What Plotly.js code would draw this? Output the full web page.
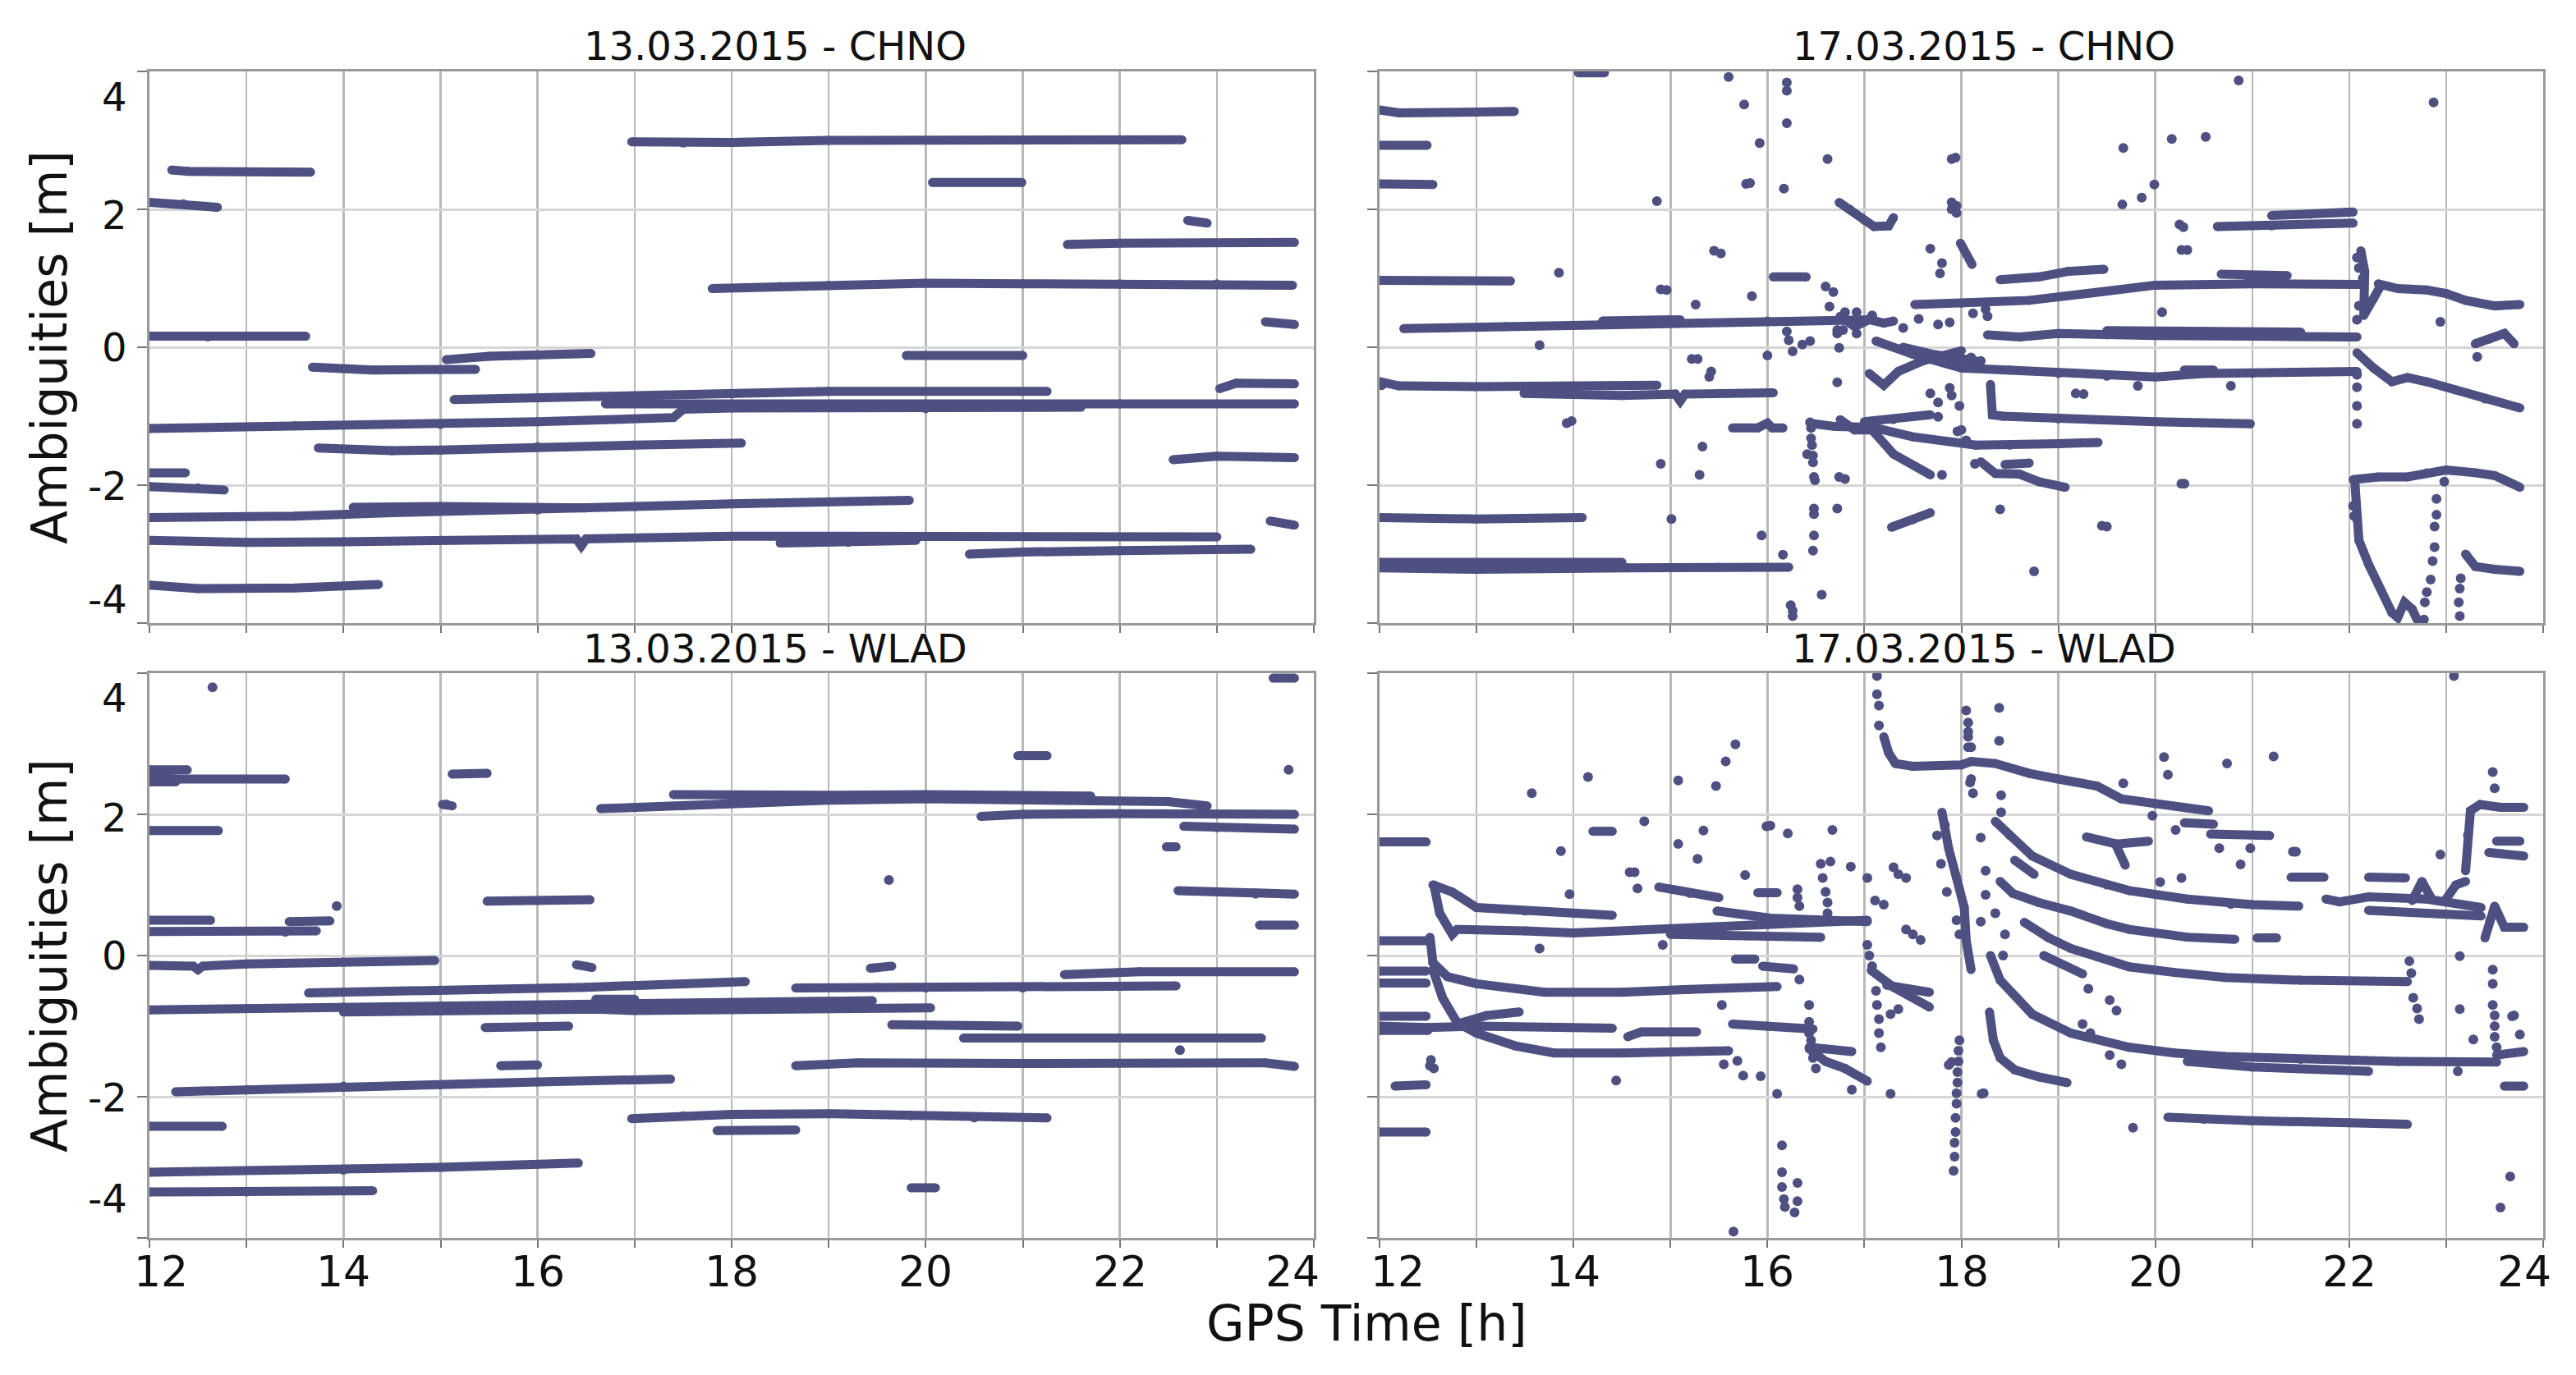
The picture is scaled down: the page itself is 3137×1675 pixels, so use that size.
<!DOCTYPE html>
<html><head><meta charset="utf-8">
<script src="https://cdn.plot.ly/plotly-3.0.1.min.js"></script>
<style>html,body{margin:0;padding:0;background:#fff;}#chart{width:3137px;height:1675px;}</style>
</head><body><div id="chart"></div>
<script>
// ---------- data (GPS time [h], ambiguity [m]) ----------
const panelTitles = ["13.03.2015 - CHNO", "17.03.2015 - CHNO", "13.03.2015 - WLAD", "17.03.2015 - WLAD"];
const xTickVals = [12, 14, 16, 18, 20, 22, 24];
const yTickVals = [4, 2, 0, -2, -4];

// each track: [t0, v0, t1, v1, ...]
const chno13Tracks = [
 [12.23,2.57, 12.4,2.55, 13.66,2.54],
 [12.0,2.1, 12.35,2.08, 12.7,2.03],
 [12.0,0.16, 12.6,0.15, 13.61,0.16],
 [13.68,-0.29, 14.3,-0.33, 15.36,-0.32],
 [15.06,-0.18, 15.5,-0.13, 16.55,-0.09],
 [15.14,-0.76, 15.7,-0.74, 17.0,-0.72, 18.0,-0.68, 19.0,-0.64, 21.25,-0.64],
 [16.7,-0.82, 18.0,-0.83, 20.0,-0.82, 22.0,-0.82, 23.8,-0.82],
 [12.0,-1.18, 13.5,-1.14, 15.0,-1.12, 16.0,-1.08, 17.4,-1.02, 17.5,-0.9, 18.0,-0.88, 20.0,-0.89, 21.6,-0.87],
 [23.03,-0.6, 23.2,-0.52, 23.8,-0.53],
 [19.8,-0.12, 21.0,-0.12],
 [22.55,-1.63, 23.0,-1.58, 23.8,-1.6],
 [23.55,-2.52, 23.8,-2.58],
 [23.5,0.37, 23.8,0.33],
 [17.8,0.85, 18.5,0.88, 19.0,0.9, 20.0,0.93, 21.0,0.92, 22.0,0.92, 23.0,0.92, 23.78,0.9],
 [21.46,1.49, 22.0,1.51, 23.8,1.52],
 [22.7,1.84, 22.9,1.8],
 [20.07,2.39, 20.99,2.39],
 [16.97,2.98, 17.5,2.96, 18.0,2.97, 19.0,3.0, 22.64,3.01],
 [13.74,-1.46, 14.5,-1.5, 15.0,-1.49, 16.0,-1.44, 17.0,-1.42, 18.1,-1.39],
 [12.0,-1.82, 12.37,-1.82],
 [12.0,-2.02, 12.5,-2.04, 12.77,-2.07],
 [12.0,-2.47, 13.5,-2.45, 14.5,-2.4, 16.0,-2.36, 17.0,-2.31, 18.0,-2.27, 19.0,-2.24, 19.83,-2.22],
 [14.1,-2.32, 15.0,-2.31, 16.5,-2.33],
 [12.0,-2.8, 13.0,-2.83, 14.0,-2.82, 15.0,-2.8, 16.4,-2.78, 16.45,-2.88, 16.5,-2.78, 18.0,-2.74, 20.0,-2.74, 23.0,-2.75],
 [18.5,-2.84, 19.2,-2.83, 19.9,-2.8],
 [20.45,-3.0, 21.0,-2.97, 22.0,-2.95, 23.35,-2.93],
 [12.0,-3.45, 12.5,-3.5, 13.5,-3.49, 14.36,-3.44]
];
const chno13Dots = [];

const chno17Tracks = [
 [12.0,3.44, 12.2,3.4, 13.0,3.41, 13.39,3.42],
 [12.0,2.93, 12.49,2.93],
 [12.0,2.37, 12.55,2.36],
 [12.0,0.97, 13.35,0.96],
 [14.05,3.98, 14.32,3.98],
 [12.25,0.27, 12.7,0.28, 13.3,0.3, 14.3,0.33, 15.1,0.35, 16.0,0.38, 17.1,0.4],
 [14.3,0.38, 15.1,0.4],
 [12.0,-0.5, 12.2,-0.56, 13.0,-0.57, 14.0,-0.56, 14.86,-0.55],
 [13.49,-0.67, 14.5,-0.7, 15.05,-0.68, 15.1,-0.78, 15.15,-0.68, 16.06,-0.66],
 [12.0,-2.47, 13.0,-2.49, 14.09,-2.47],
 [12.0,-3.2, 13.0,-3.22, 14.56,-3.2, 15.5,-3.19, 16.22,-3.19],
 [12.0,-3.12, 13.5,-3.13, 14.5,-3.12],
 [15.64,-1.17, 15.9,-1.17, 16.0,-1.1, 16.05,-1.17, 16.16,-1.17],
 [16.06,1.02, 16.4,1.02],
 [16.74,2.1, 16.85,2.0, 17.0,1.84, 17.1,1.75, 17.25,1.76, 17.3,1.88],
 [16.48,-1.11, 16.7,-1.15, 17.08,-1.16, 17.5,-1.3, 18.15,-1.42, 18.5,-1.42, 19.0,-1.4, 19.41,-1.38],
 [16.75,-1.05, 16.9,-1.2, 17.08,-1.2, 17.3,-1.55, 17.68,-1.85],
 [17.0,-1.08, 17.3,-1.05, 17.68,-0.98],
 [17.28,-2.61, 17.5,-2.5, 17.68,-2.4],
 [17.12,0.09, 17.5,-0.1, 18.0,-0.3, 18.5,-0.33, 19.0,-0.38, 19.5,-0.42, 20.0,-0.43, 20.5,-0.38, 21.0,-0.38, 22.08,-0.35],
 [20.3,-0.33, 20.6,-0.33],
 [17.05,-0.38, 17.2,-0.55, 17.35,-0.35, 17.6,-0.2, 18.0,-0.05],
 [17.4,0.0, 17.7,-0.1, 18.15,-0.2],
 [16.75,0.45, 16.9,0.3, 17.05,0.4, 17.2,0.35, 17.3,0.38],
 [17.52,0.62, 18.0,0.64, 18.7,0.68, 19.3,0.78, 20.0,0.9, 21.0,0.92, 22.1,0.91],
 [18.4,0.98, 18.8,1.02, 19.1,1.1, 19.47,1.13],
 [20.68,1.06, 21.36,1.04],
 [20.96,0.96, 21.28,0.96],
 [18.27,0.18, 18.6,0.15, 19.0,0.2, 19.5,0.18, 20.0,0.17, 21.0,0.16, 22.08,0.15],
 [19.5,0.24, 20.5,0.23, 21.5,0.22],
 [18.3,-0.54, 18.32,-0.98, 18.43,-1.0, 19.0,-1.04, 20.0,-1.08, 20.98,-1.11],
 [18.2,-1.66, 18.35,-1.83, 18.6,-1.84, 18.8,-1.95, 19.07,-2.03],
 [18.45,-1.7, 18.7,-1.68],
 [21.2,1.91, 21.6,1.93, 22.04,1.96],
 [20.64,1.75, 21.2,1.76, 22.04,1.8],
 [17.99,1.51, 18.11,1.2],
 [22.3,0.92, 22.5,0.85, 22.8,0.83, 23.0,0.78, 23.2,0.68, 23.5,0.6, 23.76,0.62],
 [22.12,1.4, 22.16,1.1, 22.15,0.46, 22.25,0.7, 22.32,0.88],
 [22.08,-0.08, 22.25,-0.3, 22.44,-0.5, 22.6,-0.44, 22.8,-0.5, 23.1,-0.62, 23.4,-0.75, 23.76,-0.88],
 [22.04,-1.92, 22.3,-1.88, 22.6,-1.88, 22.8,-1.82, 23.0,-1.78, 23.3,-1.82, 23.5,-1.86, 23.76,-2.03],
 [22.06,-2.0, 22.08,-2.5, 22.1,-2.8, 22.2,-3.15, 22.32,-3.5, 22.44,-3.85, 22.5,-3.92, 22.57,-3.7, 22.65,-3.8, 22.7,-3.95],
 [23.2,-3.0, 23.3,-3.18, 23.5,-3.22, 23.76,-3.25],
 [23.3,0.05, 23.45,0.12, 23.6,0.2, 23.7,0.05]
];
const chno17Dots = [
 15.6,3.92, 15.76,3.52, 16.2,3.84, 16.2,3.72, 16.2,3.25, 15.92,2.96, 15.78,2.37, 15.82,2.38, 16.17,2.3,
 14.86,2.12, 13.85,1.08, 13.65,0.03, 15.45,1.4, 15.52,1.36, 14.9,0.84, 14.96,0.83, 15.26,0.62, 15.84,0.74,
 16.62,2.73, 17.9,2.73, 17.9,2.1, 17.9,2.0, 16.0,-0.12, 15.22,-0.17, 15.28,-0.17, 15.42,-0.35, 15.4,-0.43,
 13.93,-1.1, 13.98,-1.07, 15.33,-1.44, 14.9,-1.69, 15.3,-1.85, 15.01,-2.49, 15.94,-2.73, 16.16,-3.01,
 16.56,-3.59, 16.24,-3.74, 16.26,-3.82, 16.26,-3.9, 12.02,-0.55,
 16.44,-1.09, 16.45,-1.17, 16.45,-1.32, 16.46,-1.42, 16.47,-1.57, 16.47,-1.67, 16.48,-1.88, 16.49,-1.93,
 16.48,-2.34, 16.48,-2.42, 16.48,-2.73, 16.47,-2.95, 16.41,-1.55,
 16.74,-1.88, 16.8,-1.91, 16.72,-2.34, 16.72,-0.51, 16.74,-0.01, 16.72,0.2, 16.78,0.25,
 16.2,0.23, 16.22,0.1, 16.26,-0.06, 16.36,0.04, 16.44,0.09,
 16.6,0.88, 16.68,0.8, 16.64,0.59, 16.8,0.51, 16.92,0.51, 17.08,0.46, 16.72,0.25, 16.92,0.2,
 17.68,1.43, 17.8,1.22, 17.78,1.07, 17.4,0.28, 17.56,0.41, 17.76,0.33, 17.88,0.36, 18.12,0.49,
 17.68,-0.67, 17.76,-0.8, 17.88,-0.59, 17.9,-0.7, 17.98,-0.85, 17.76,-1.01, 17.96,-1.22, 17.8,-1.85, 18.14,-1.69,
 20.86,3.87, 22.87,3.55, 19.67,2.89, 20.17,3.02, 20.52,3.05, 19.99,2.36, 19.86,2.17, 19.66,2.07,
 20.25,1.78, 20.29,1.74, 20.27,1.41, 20.33,1.41, 20.07,0.51, 22.94,0.37, 19.82,-0.56, 20.78,-0.56,
 19.18,-0.67, 19.26,-0.68, 20.27,-1.98, 20.3,-1.98, 18.4,-2.35, 19.45,-2.59, 19.5,-2.6, 18.75,-3.25,
 17.94,2.75, 17.95,2.05, 17.95,1.95, 18.27,0.45, 18.25,0.55, 18.2,-0.2, 18.1,-0.15, 18.0,-1.2, 18.05,-1.35,
 22.08,1.3, 22.1,1.15, 22.14,1.0, 22.1,0.6, 22.08,0.4, 22.08,-0.4, 22.08,-0.58, 22.08,-0.85, 22.08,-1.11,
 22.04,-2.3, 22.05,-2.45, 22.98,-1.95, 22.9,-2.2, 22.9,-2.43, 22.88,-2.6, 22.88,-2.9, 22.86,-3.1, 22.84,-3.37,
 22.8,-3.55, 22.78,-3.7, 22.77,-3.95, 23.15,-3.35, 23.14,-3.5, 23.13,-3.7, 23.14,-3.9, 23.32,-0.14
];

const wlad13Tracks = [
 [12.0,2.63, 12.39,2.63],
 [12.0,2.52, 12.3,2.5, 13.4,2.5],
 [12.0,2.46, 12.27,2.46],
 [12.0,1.77, 12.71,1.77],
 [15.12,2.57, 15.48,2.58],
 [15.02,2.14, 15.12,2.12],
 [16.65,2.08, 17.0,2.1, 17.5,2.12, 18.0,2.16, 19.0,2.2, 20.0,2.22, 21.0,2.2, 21.7,2.2, 22.5,2.18, 22.9,2.12],
 [17.4,2.28, 18.0,2.27, 19.0,2.27, 20.0,2.28, 20.8,2.27, 21.7,2.26],
 [18.0,2.22, 19.0,2.23, 20.0,2.24, 21.0,2.25],
 [20.57,1.97, 21.0,2.0, 22.0,2.01, 23.0,2.0, 23.8,2.0],
 [23.58,3.93, 23.8,3.93],
 [20.95,2.83, 21.25,2.83],
 [22.66,1.83, 23.0,1.81, 23.8,1.79],
 [22.48,1.54, 22.58,1.54],
 [22.6,0.92, 23.0,0.9, 23.4,0.87, 23.8,0.87],
 [23.44,0.43, 23.8,0.43],
 [12.0,0.5, 12.63,0.5],
 [13.44,0.48, 13.86,0.49],
 [12.0,0.34, 13.4,0.33, 13.72,0.35],
 [15.48,0.77, 16.0,0.78, 16.54,0.79],
 [12.0,-0.14, 12.45,-0.15, 12.5,-0.2, 12.55,-0.15, 13.0,-0.12, 14.0,-0.09, 14.94,-0.07],
 [16.4,-0.13, 16.56,-0.17],
 [19.43,-0.18, 19.65,-0.15],
 [13.64,-0.53, 14.5,-0.51, 15.5,-0.48, 16.5,-0.45, 17.5,-0.4, 18.14,-0.37],
 [18.66,-0.46, 19.5,-0.45, 20.0,-0.46, 21.0,-0.46, 21.8,-0.44, 22.58,-0.43],
 [21.43,-0.27, 22.2,-0.23, 23.8,-0.23],
 [12.0,-0.77, 13.0,-0.75, 14.0,-0.73, 15.0,-0.72, 16.0,-0.7, 17.0,-0.68, 18.0,-0.67, 19.45,-0.64],
 [14.0,-0.8, 15.0,-0.78, 16.0,-0.77, 16.6,-0.76, 17.0,-0.78, 18.0,-0.76, 19.0,-0.74, 20.05,-0.74],
 [16.6,-0.62, 17.0,-0.62],
 [15.46,-1.02, 16.32,-1.0],
 [15.62,-1.56, 16.0,-1.55],
 [19.65,-0.98, 20.4,-0.99, 20.95,-1.0],
 [20.39,-1.17, 21.5,-1.17, 23.46,-1.17],
 [18.66,-1.56, 19.3,-1.52, 21.0,-1.53, 23.5,-1.52, 23.8,-1.57],
 [12.27,-1.93, 13.0,-1.9, 14.0,-1.85, 15.0,-1.83, 16.0,-1.79, 17.37,-1.75],
 [12.0,-2.42, 12.75,-2.42],
 [16.97,-2.31, 17.5,-2.27, 18.0,-2.25, 19.0,-2.24, 19.85,-2.27, 20.5,-2.3, 21.25,-2.3],
 [17.85,-2.48, 18.66,-2.47],
 [19.85,-3.29, 20.1,-3.29],
 [12.0,-3.07, 14.0,-3.04, 15.0,-3.0, 16.42,-2.94],
 [12.0,-3.35, 13.0,-3.35, 14.3,-3.33]
];
const wlad13Dots = [12.65,3.8, 13.93,0.7, 19.62,1.07, 23.74,2.63, 22.62,-1.34, 15.06,2.14];

const wlad17Tracks = [
 [12.0,1.61, 12.48,1.61],
 [12.0,0.21, 12.5,0.21],
 [12.0,-0.22, 12.48,-0.22],
 [12.0,-0.39, 12.48,-0.39],
 [12.0,-0.86, 12.48,-0.86],
 [12.0,-1.0, 12.5,-1.02],
 [12.0,-1.06, 12.5,-1.06],
 [12.0,-2.5, 12.48,-2.5],
 [12.55,1.0, 12.75,0.9, 13.0,0.68, 13.5,0.63, 14.0,0.6, 14.4,0.57],
 [12.56,1.0, 12.62,0.6, 12.75,0.3, 12.8,0.37, 13.5,0.35, 14.0,0.32, 15.0,0.38, 16.0,0.44, 17.03,0.5],
 [15.48,0.63, 16.03,0.53, 17.03,0.48],
 [15.0,0.3, 15.8,0.28, 16.55,0.26],
 [14.88,0.97, 15.2,0.88, 15.5,0.82],
 [12.52,0.26, 12.55,-0.1, 12.7,-0.3, 13.0,-0.4, 13.7,-0.52, 14.5,-0.52, 15.2,-0.48, 16.1,-0.44],
 [12.55,-0.2, 12.65,-0.6, 12.8,-0.95, 13.0,-1.1, 13.4,-1.28, 13.8,-1.38, 14.5,-1.38, 15.6,-1.35],
 [12.5,-1.02, 13.0,-1.0, 14.4,-1.03],
 [12.85,-0.95, 13.1,-0.85, 13.44,-0.8],
 [14.56,-1.15, 14.7,-1.08, 15.27,-1.08],
 [15.64,-0.97, 16.0,-1.0, 16.47,-1.04],
 [12.16,-1.85, 12.48,-1.83],
 [14.2,1.76, 14.4,1.76],
 [15.9,0.89, 16.1,0.89],
 [15.67,-0.05, 15.87,-0.05],
 [15.95,-0.15, 16.27,-0.19],
 [16.43,-1.32, 16.6,-1.5, 16.8,-1.6, 17.03,-1.78],
 [16.43,-1.3, 16.87,-1.36],
 [17.32,2.72, 17.5,2.68, 18.0,2.7, 18.1,2.75, 18.35,2.72, 18.7,2.58, 19.0,2.5, 19.4,2.4, 19.65,2.22, 20.0,2.15, 20.33,2.09, 20.55,2.05],
 [17.2,3.1, 17.25,2.87, 17.32,2.72],
 [17.07,-0.21, 17.3,-0.45, 17.67,-0.73],
 [17.23,-0.42, 17.67,-0.52],
 [17.8,2.03, 17.87,1.51, 17.95,1.1, 18.03,0.68, 18.05,0.21, 18.1,-0.2],
 [18.35,1.9, 18.5,1.7, 18.73,1.41, 19.13,1.15, 19.5,1.0, 19.73,0.92, 20.33,0.8, 21.0,0.72, 21.48,0.7],
 [18.55,1.35, 18.75,1.15],
 [18.4,1.05, 18.53,0.88, 18.8,0.75, 19.13,0.63, 19.5,0.45, 19.73,0.37, 20.33,0.26, 20.82,0.23],
 [18.65,0.47, 18.9,0.25, 19.13,0.1, 19.4,-0.02, 19.73,-0.16, 20.2,-0.24, 20.72,-0.31, 21.5,-0.35, 22.6,-0.37],
 [18.85,0.0, 19.25,-0.26],
 [18.3,0.0, 18.4,-0.35, 18.73,-0.83, 19.13,-1.1, 19.73,-1.3, 20.2,-1.38, 20.72,-1.43, 21.5,-1.47, 22.5,-1.5, 23.52,-1.51],
 [20.33,-1.5, 21.0,-1.58, 22.2,-1.64],
 [18.29,-0.8, 18.33,-1.2, 18.4,-1.45, 18.55,-1.62, 18.8,-1.72, 19.09,-1.8],
 [20.13,-2.29, 20.5,-2.32, 21.0,-2.34, 22.0,-2.37, 22.6,-2.39],
 [20.3,1.88, 20.6,1.86],
 [20.57,1.72, 21.18,1.7],
 [19.29,1.68, 19.6,1.58, 19.93,1.62],
 [19.6,1.55, 19.69,1.28],
 [21.4,1.11, 21.74,1.11],
 [22.2,1.11, 22.58,1.1],
 [21.05,0.25, 21.25,0.25],
 [21.76,0.8, 21.9,0.76, 22.2,0.83, 22.8,0.8, 23.36,0.68],
 [22.2,0.64, 22.8,0.6, 23.36,0.56],
 [22.65,0.78, 22.75,1.05, 22.85,0.8],
 [23.0,0.8, 23.1,1.0, 23.2,1.05],
 [23.2,1.2, 23.22,1.7, 23.25,2.05, 23.35,2.14, 23.56,2.1, 23.8,2.1],
 [23.44,1.46, 23.8,1.41],
 [23.52,1.62, 23.76,1.62],
 [23.4,0.25, 23.45,0.5, 23.5,0.7, 23.6,0.4, 23.8,0.4],
 [23.52,-1.41, 23.8,-1.36],
 [23.6,-1.85, 23.8,-1.85]
];
const wlad17Dots = [
 13.57,2.3, 14.15,2.53, 13.87,1.48, 13.96,0.87, 14.66,0.95, 14.73,1.9, 15.08,2.48, 15.08,1.58, 15.28,1.37,
 15.34,1.77, 15.47,2.4, 15.57,2.75, 15.67,2.99, 15.77,1.14, 15.99,1.83, 16.03,1.84, 16.21,1.73, 16.67,1.78,
 16.65,1.33, 16.86,1.26, 14.58,1.18, 14.63,1.18, 14.92,0.15, 13.65,0.1, 14.44,-1.77, 15.53,-0.7, 16.33,-0.34,
 16.43,-0.7, 15.55,-1.54, 15.69,-1.49, 15.75,-1.7, 15.93,-1.71, 16.1,-1.96, 16.15,-2.69, 16.15,-3.07,
 16.31,-3.22, 16.15,-3.28, 16.17,-3.45, 16.31,-3.48, 16.18,-3.56, 16.28,-3.64, 15.65,-3.91,
 12.53,-1.48, 12.56,-1.6, 12.52,-1.56,
 16.31,0.94, 16.31,0.82, 16.33,0.7, 16.55,1.3, 16.57,1.1, 16.6,0.9, 16.62,0.75, 16.62,0.6,
 16.43,-0.94, 16.43,-1.1, 16.45,-1.2, 16.47,-1.45, 16.5,-1.6, 16.87,-1.9, 17.27,-1.96,
 17.13,3.96, 17.13,3.7, 17.15,3.54, 17.15,3.26,
 18.05,3.47, 18.07,3.3, 18.07,3.1, 18.1,2.95, 18.1,2.5, 18.12,2.3,
 17.03,1.1, 17.3,1.25, 17.35,1.15, 17.43,1.1, 17.11,0.78, 17.2,0.72, 17.43,0.37, 17.5,0.3, 17.58,0.22,
 17.03,0.15, 17.05,0.0, 17.08,-0.15, 17.12,-0.5, 17.13,-0.7, 17.15,-0.9, 17.15,-1.1, 17.17,-1.3,
 17.27,-0.83, 17.35,-0.76,
 17.83,1.85, 17.75,1.7, 17.79,1.3, 17.85,0.9, 17.95,0.5, 17.98,0.3,
 17.98,-1.2, 17.97,-1.35, 17.97,-1.5, 17.96,-1.65, 17.96,-1.8, 17.95,-1.95, 17.95,-2.1, 17.94,-2.3,
 17.94,-2.5, 17.93,-2.65, 17.93,-2.85, 17.92,-3.05, 17.9,-1.51, 17.87,-1.55,
 18.39,3.51, 18.07,3.17, 18.39,3.04, 18.07,2.95, 18.09,2.45, 18.41,2.27, 18.41,2.03, 19.67,2.44,
 20.09,2.81, 20.13,2.56, 20.74,2.72, 21.22,2.82, 19.97,1.98, 20.21,1.78, 20.66,1.52, 20.98,1.52, 20.88,1.29,
 21.42,1.47, 21.45,1.47, 20.05,1.04, 20.27,1.1, 20.78,0.73, 22.94,1.43, 23.48,2.6, 23.5,2.37, 23.14,-0.01,
 23.14,-0.76, 23.28,-1.19, 23.76,-1.12, 23.68,-0.86, 23.12,-1.64, 23.66,-3.13, 23.56,-3.57, 19.77,-2.44,
 18.21,-1.96, 18.23,-1.95, 23.08,3.96,
 22.62,-0.08, 22.64,-0.25, 22.66,-0.6, 22.7,-0.75, 22.72,-0.9,
 23.48,-0.2, 23.48,-0.4, 23.48,-0.7, 23.5,-0.85, 23.5,-1.0, 23.5,-1.15, 23.52,-1.3, 23.7,-0.85,
 19.31,-0.47, 19.53,-0.63, 19.6,-0.78, 19.53,-1.41, 19.65,-1.54, 19.25,-0.97, 19.33,-1.1,
 18.45,0.3, 18.43,0.0, 18.35,0.6, 18.2,1.67, 18.25,1.2, 18.25,0.86, 18.2,0.48
];

// ---------- drawing ----------
const W = 3137, H = 1675;
const INK = '#4e5081';
const FONT = 'DejaVu Sans, Noto Sans, sans-serif';

function trackXY(tracks) {
  const x = [], y = [];
  tracks.forEach(t => {
    for (let i = 0; i < t.length; i += 2) { x.push(t[i]); y.push(t[i + 1]); }
    x.push(null); y.push(null);
  });
  return {x, y};
}
function dotXY(d) {
  const x = [], y = [];
  for (let i = 0; i < d.length; i += 2) { x.push(d[i]); y.push(d[i + 1]); }
  return {x, y};
}

const panels = [
  {tracks: chno13Tracks, dots: chno13Dots},
  {tracks: chno17Tracks, dots: chno17Dots},
  {tracks: wlad13Tracks, dots: wlad13Dots},
  {tracks: wlad17Tracks, dots: wlad17Dots}
];

const data = [];
panels.forEach((p, i) => {
  const n = i === 0 ? '' : String(i + 1);
  const L = trackXY(p.tracks);
  data.push({type: 'scatter', mode: 'lines+markers', x: L.x, y: L.y, xaxis: 'x' + n, yaxis: 'y' + n,
    connectgaps: false, line: {color: INK, width: 11}, marker: {color: INK, size: 11, line: {width: 0}},
    hoverinfo: 'skip', showlegend: false});
  const D = dotXY(p.dots);
  if (D.x.length) data.push({type: 'scatter', mode: 'markers', x: D.x, y: D.y, xaxis: 'x' + n, yaxis: 'y' + n,
    marker: {color: INK, size: 12, line: {width: 0}}, hoverinfo: 'skip', showlegend: false});
});

// panel pixel boxes (left, right, top, bottom)
const colPx = [[182, 1600], [1680, 3097]];
const rowPx = [[87, 759], [820, 1508]];
const px2x = v => v / W, px2y = v => 1 - v / H;

const hours = [];
for (let h = 12; h <= 24; h++) hours.push(h);

const layout = {
  width: W, height: H, margin: {l: 0, r: 0, t: 0, b: 0},
  paper_bgcolor: '#ffffff', plot_bgcolor: '#ffffff', showlegend: false,
  font: {family: FONT, color: '#111'},
  annotations: []
};
for (let i = 0; i < 4; i++) {
  const n = i === 0 ? '' : String(i + 1);
  const c = colPx[i % 2], r = rowPx[Math.floor(i / 2)];
  layout['xaxis' + n] = {
    domain: [px2x(c[0]), px2x(c[1])], anchor: 'y' + n, range: [12, 24],
    tickvals: hours, showticklabels: false, ticks: 'outside', ticklen: 9, tickwidth: 2, tickcolor: '#777',
    showgrid: true, gridcolor: '#b9b9b9', gridwidth: 2.5, zeroline: false,
    showline: true, mirror: true, linecolor: '#9a9a9a', linewidth: 3, fixedrange: true
  };
  layout['yaxis' + n] = {
    domain: [px2y(r[1]), px2y(r[0])], anchor: 'x' + n, range: [-4, 4],
    tickvals: yTickVals, showticklabels: false, ticks: 'outside', ticklen: 12, tickwidth: 2, tickcolor: '#777',
    showgrid: true, gridcolor: '#d6d6d6', gridwidth: 3, zeroline: false,
    showline: true, mirror: true, linecolor: '#9a9a9a', linewidth: 3, fixedrange: true
  };
}

// panel titles
const titlePos = [[944, 56], [2416, 56], [944, 790], [2416, 790]];
panelTitles.forEach((t, i) => layout.annotations.push({
  text: t, xref: 'paper', yref: 'paper', x: px2x(titlePos[i][0]), y: px2y(titlePos[i][1]),
  xanchor: 'center', yanchor: 'middle', showarrow: false, font: {family: FONT, size: 48, color: '#111'}
}));

// y tick labels (left column)
const yLabelPx = [[118, 262, 423, 592, 730], [850, 996, 1164, 1337, 1460]];
yLabelPx.forEach(row => yTickVals.forEach((v, k) => layout.annotations.push({
  text: String(v), xref: 'paper', yref: 'paper', x: px2x(157), y: px2y(row[k]),
  xanchor: 'right', yanchor: 'middle', showarrow: false, font: {family: FONT, size: 48, color: '#111'}
})));

// x tick labels (bottom row)
['x3', 'x4'].forEach((ax, j) => xTickVals.forEach(v => {
  let shift = 0;
  if (v === 12) shift = j === 0 ? 14 : 22;
  if (v === 24) shift = j === 0 ? -26 : -23;
  layout.annotations.push({
    text: String(v), xref: ax, yref: 'paper', x: v, y: px2y(1549), xshift: shift,
    xanchor: 'center', yanchor: 'middle', showarrow: false, font: {family: FONT, size: 52, color: '#111'}
  });
}));

// axis titles
[423, 1164].forEach(yc => layout.annotations.push({
  text: 'Ambiguities [m]', xref: 'paper', yref: 'paper', x: px2x(60), y: px2y(yc), textangle: -90,
  xanchor: 'center', yanchor: 'middle', showarrow: false, font: {family: FONT, size: 60, color: '#111'}
}));
layout.annotations.push({
  text: 'GPS Time [h]', xref: 'paper', yref: 'paper', x: px2x(1664), y: px2y(1612),
  xanchor: 'center', yanchor: 'middle', showarrow: false, font: {family: FONT, size: 60, color: '#111'}
});

Plotly.newPlot('chart', data, layout, {staticPlot: true, displayModeBar: false});
</script>
</body></html>
